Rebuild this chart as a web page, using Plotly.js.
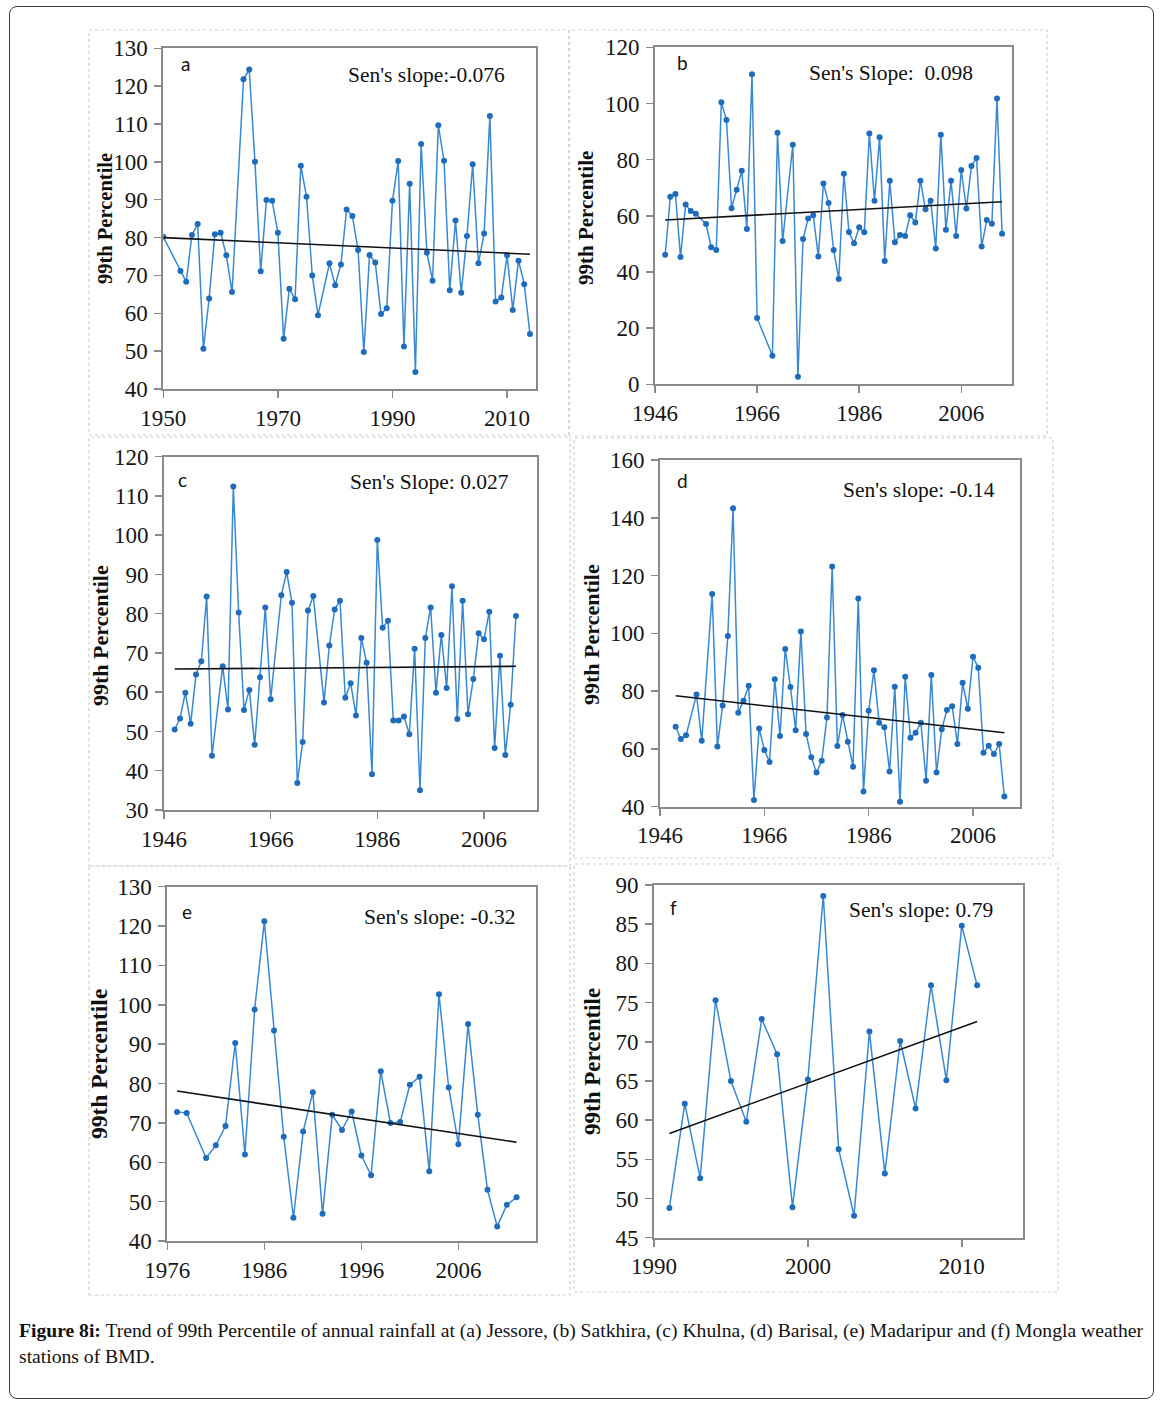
<!DOCTYPE html>
<html>
<head>
<meta charset="utf-8">
<script src="https://cdn.plot.ly/plotly-3.0.1.min.js"></script>
<style>
  body { margin:0; background:#fff; }
  #wrap { position:relative; width:1161px; height:1408px; overflow:hidden; background:#fff; }
  #plot { position:absolute; left:0; top:0; }
  #frame { position:absolute; left:9px; top:6px; width:1145px; height:1393px; box-sizing:border-box;
           border:1.5px solid #3a3a3a; border-radius:8px; pointer-events:none; }
  #caption { position:absolute; left:19px; top:1318px; font-family:'Liberation Serif', serif; color:#111;
             line-height:26px; white-space:nowrap; }
</style>
</head>
<body>
<div id="wrap">
  <div id="plot"></div>
  <div id="frame"></div>
  <div id="caption"><span id="cap1"><b>Figure 8i:</b> Trend of 99th Percentile of annual rainfall at (a) Jessore, (b) Satkhira, (c) Khulna, (d) Barisal, (e) Madaripur and (f) Mongla weather</span><br><span>stations of BMD.</span></div>
</div>
<script>
// ---------------- DATA ----------------
const yearsA = [1950,1953,1954,1955,1956,1957,1958,1959,1960,1961,1962,1964,1965,1966,1967,1968,1969,1970,1971,1972,1973,1974,1975,1976,1977,1979,1980,1981,1982,1983,1984,1985,1986,1987,1988,1989,1990,1991,1992,1993,1994,1995,1996,1997,1998,1999,2000,2001,2002,2003,2004,2005,2006,2007,2008,2009,2010,2011,2012,2013,2014];
const valuesA = [80.2,71.2,68.3,80.7,83.6,50.6,63.9,80.9,81.3,75.3,65.6,121.8,124.4,100,71.1,89.9,89.7,81.3,53.3,66.5,63.7,99,90.8,70,59.5,73.2,67.4,72.9,87.4,85.7,76.7,49.8,75.4,73.4,59.8,61.3,89.7,100.2,51.2,94.2,44.5,104.7,76,68.6,109.7,100.3,66.1,84.5,65.4,80.4,99.4,73.2,81.1,112.1,63.1,64.2,75.3,60.9,73.9,67.7,54.5];
const trendYearsA = [1950, 2014];
const trendA = [80.0, 75.6];

const yearsB = [1948,1949,1950,1951,1952,1953,1954,1956,1957,1958,1959,1960,1961,1962,1963,1964,1965,1966,1969,1970,1971,1973,1974,1975,1976,1977,1978,1979,1980,1981,1982,1983,1984,1985,1986,1987,1988,1989,1990,1991,1992,1993,1994,1995,1996,1997,1998,1999,2000,2001,2002,2003,2004,2005,2006,2007,2008,2009,2010,2011,2012,2013,2014];
const valuesB = [46.1,66.8,67.8,45.3,64,61.7,60.7,57.1,48.8,47.8,100.4,94.1,62.7,69.3,76,55.3,110.4,23.6,10.2,89.6,51,85.3,2.7,51.7,59,60.2,45.5,71.5,64.6,47.8,37.5,75,54.2,50.2,55.9,54.1,89.3,65.4,88,43.9,72.5,50.6,53.2,52.8,60.2,57.6,72.5,62.3,65.4,48.4,88.9,55,72.5,52.8,76.3,62.6,77.7,80.6,49.1,58.5,57.2,101.8,53.6];
const trendYearsB = [1948, 2014];
const trendB = [58.5, 65.0];

const yearsC = [1948,1949,1950,1951,1952,1953,1954,1955,1957,1958,1959,1960,1961,1962,1963,1964,1965,1966,1968,1969,1970,1971,1972,1973,1974,1976,1977,1978,1979,1980,1981,1982,1983,1984,1985,1986,1987,1988,1989,1990,1991,1992,1993,1994,1995,1996,1997,1998,1999,2000,2001,2002,2003,2004,2005,2006,2007,2008,2009,2010,2011,2012];
const valuesC = [50.5,53.3,59.9,52,64.5,67.9,84.4,43.8,66.6,55.6,112.4,80.3,55.5,60.6,46.6,63.8,81.6,58.2,84.7,90.6,82.8,36.9,47.3,80.8,84.5,57.4,71.9,81.1,83.3,58.6,62.3,54.1,73.8,67.5,39.1,98.8,76.4,78.2,52.8,52.8,53.8,49.3,71.1,35,73.8,81.6,59.9,74.6,61.1,87,53.2,83.3,54.4,63.4,75,73.5,80.5,45.8,69.3,44,56.8,79.4];
const trendYearsC = [1948, 2012];
const trendC = [65.9, 66.6];

const yearsD = [1949,1950,1951,1953,1954,1956,1957,1958,1959,1960,1961,1962,1963,1964,1965,1966,1967,1968,1969,1970,1971,1972,1973,1974,1975,1976,1977,1978,1979,1980,1981,1982,1983,1984,1985,1986,1987,1988,1989,1990,1991,1992,1993,1994,1995,1996,1997,1998,1999,2000,2001,2002,2003,2004,2005,2006,2007,2008,2009,2010,2011,2012];
const valuesD = [67.7,63.4,64.7,78.8,62.8,113.6,60.8,75,99.1,143.3,72.5,76.7,81.9,42.3,67.1,59.6,55.5,84.1,64.5,94.6,81.4,66.5,100.6,65.2,57.1,51.8,55.9,70.9,123.1,61,71.7,62.5,53.8,112.1,45.3,73.2,87.2,69.1,67.5,52.2,81.5,41.7,85,63.9,65.6,69.1,49,85.6,51.8,66.8,73.5,74.8,61.7,82.9,73.9,91.9,88.1,58.7,61.1,58.2,61.7,43.5];
const trendYearsD = [1949, 2012];
const trendD = [78.4, 65.6];

const yearsE = [1977,1978,1980,1981,1982,1983,1984,1985,1986,1987,1988,1989,1990,1991,1992,1993,1994,1995,1996,1997,1998,1999,2000,2001,2002,2003,2004,2005,2006,2007,2008,2009,2010,2011,2012];
const valuesE = [72.8,72.5,61.1,64.3,69.2,90.3,62,98.8,121.2,93.5,66.5,45.9,67.8,77.8,46.9,72.1,68.2,72.9,61.7,56.7,83.1,70,70.2,79.7,81.7,57.7,102.7,79,64.6,95.1,72.1,53,43.7,49.2,51.1];
const trendYearsE = [1977, 2012];
const trendE = [78.1, 65.1];

const yearsF = [1991,1992,1993,1994,1995,1996,1997,1998,1999,2000,2001,2002,2003,2004,2005,2006,2007,2008,2009,2010,2011];
const valuesF = [48.8,62.1,52.6,75.3,65,59.8,72.9,68.4,48.9,65.2,88.6,56.3,47.8,71.3,53.2,70.1,61.5,77.2,65.1,84.8,77.2];
const trendYearsF = [1991, 2011];
const trendF = [58.3, 72.6];

const panelLetters = ['a','b','c','d','e','f'];
const senLabels = ["Sen's slope:-0.076", "Sen's Slope:  0.098", "Sen's Slope: 0.027", "Sen's slope: -0.14", "Sen's slope: -0.32", "Sen's slope: 0.79"];
const yTitle = '99th Percentile';

// ---------------- LAYOUT ----------------
const W = 1161, H = 1408;
const fx = p => p / W;
const fy = p => 1 - p / H;

const panels = [
  {x: yearsA, y: valuesA, tx: trendYearsA, ty: trendA, box:[163.3,535.7,48.3,389],  xr:[1950,2015], yr:[40,130], t0:1950, xd:20, yd:10, lp:[185,64],  sp:[507,75],  yt:[105,219], yts:20.5, frame:[89,30,569,435]},
  {x: yearsB, y: valuesB, tx: trendYearsB, ty: trendB, box:[655,1012.3,47.3,384.3],  xr:[1946,2016], yr:[0,120],  t0:1946, xd:20, yd:20, lp:[682,62],  sp:[975,73],  yt:[586,218], yts:21,   frame:[569,30,1047,436]},
  {x: yearsC, y: valuesC, tx: trendYearsC, ty: trendC, box:[164,537.3,456.7,810],    xr:[1946,2016], yr:[30,120], t0:1946, xd:20, yd:10, lp:[182,479], sp:[511,482], yt:[100,636], yts:22,   frame:[89,437,570,866]},
  {x: yearsD, y: valuesD, tx: trendYearsD, ty: trendD, box:[660,1020,460,806.7],     xr:[1946,2015], yr:[40,160], t0:1946, xd:20, yd:20, lp:[682,481], sp:[997,490], yt:[592,635], yts:22,   frame:[574,438,1053,858]},
  {x: yearsE, y: valuesE, tx: trendYearsE, ty: trendE, box:[167.3,536,886.7,1241],   xr:[1976,2014], yr:[40,130], t0:1976, xd:10, yd:10, lp:[187,911], sp:[517,917], yt:[99,1064], yts:23.5, frame:[89,866,570,1295]},
  {x: yearsF, y: valuesF, tx: trendYearsF, ty: trendF, box:[654,1023.3,885,1237.7],  xr:[1990,2014], yr:[45,90],  t0:1990, xd:10, yd:5,  lp:[673,907], sp:[995,910], yt:[592,1062], yts:23,  frame:[574,864,1058,1292]}
];

const tickFont = {family:'Liberation Serif, Times New Roman, serif', size:23, color:'#161616'};
const axisCommon = {
  showgrid:false, zeroline:false, showline:true, mirror:true,
  linecolor:'#8a8a8a', linewidth:2, ticks:'outside', ticklen:7, tickwidth:1.5, tickcolor:'#8a8a8a',
  tickfont: tickFont, fixedrange:true
};

const traces = [];
const layout = {
  width: W, height: H, margin:{l:0,r:0,t:0,b:0}, paper_bgcolor:'#fff', plot_bgcolor:'#fff',
  showlegend:false, annotations:[], shapes:[]
};

panels.forEach((p, i) => {
  const n = i === 0 ? '' : String(i + 1);
  const xa = 'x' + n, ya = 'y' + n;
  traces.push({
    x: p.x, y: p.y, xaxis: xa, yaxis: ya, type:'scatter', mode:'lines+markers',
    line:{color:'#3888d3', width:1.5}, marker:{color:'#1f6cbd', size:6, symbol:'circle'},
    hoverinfo:'x+y'
  });
  traces.push({
    x: p.tx, y: p.ty, xaxis: xa, yaxis: ya, type:'scatter', mode:'lines',
    line:{color:'#111', width:1.6}, hoverinfo:'skip'
  });
  layout['xaxis' + n] = Object.assign({}, axisCommon, {
    domain:[fx(p.box[0]), fx(p.box[1])], range:p.xr, anchor: ya,
    tickmode:'linear', tick0:p.t0, dtick:p.xd, ticklabelstandoff:0
  });
  layout['yaxis' + n] = Object.assign({}, axisCommon, {
    domain:[fy(p.box[3]), fy(p.box[2])], range:p.yr, anchor: xa,
    tickmode:'linear', tick0:p.yr[0], dtick:p.yd, ticklabelstandoff:2
  });
  // panel letter
  layout.annotations.push({xref:'paper', yref:'paper', x:fx(p.lp[0]), y:fy(p.lp[1]), xanchor:'center', yanchor:'middle',
    text: panelLetters[i], showarrow:false, font:{family:'Lato, Liberation Sans, sans-serif', size:19, color:'#111'}});
  // Sen's slope
  layout.annotations.push({xref:'paper', yref:'paper', x:fx(p.sp[0]), y:fy(p.sp[1]), xanchor:'right', yanchor:'middle',
    text: senLabels[i].replace(/  /g,'&nbsp; '), showarrow:false, font:{family:'Liberation Serif, serif', size:21.5, color:'#111'}});
  // y title
  layout.annotations.push({xref:'paper', yref:'paper', x:fx(p.yt[0]), y:fy(p.yt[1]), xanchor:'center', yanchor:'middle',
    text:'<b>' + yTitle + '</b>', textangle:-90, showarrow:false, font:{family:'Liberation Serif, serif', size:p.yts, color:'#111'}});
  // chart-area frame
  layout.shapes.push({type:'rect', xref:'paper', yref:'paper', x0:fx(p.frame[0]), x1:fx(p.frame[2]), y0:fy(p.frame[3]), y1:fy(p.frame[1]),
    line:{color:'#cfcfcf', width:1.2, dash:'dot'}, fillcolor:'rgba(0,0,0,0)', layer:'below'});
});

Plotly.newPlot('plot', traces, layout, {displayModeBar:false, staticPlot:true});

// fit caption line 1 to its width in the reference (19px .. 1144px)
(function(){
  const cap = document.getElementById('caption');
  const c1 = document.getElementById('cap1');
  let size = 18;
  cap.style.fontSize = size + 'px';
  const w = c1.getBoundingClientRect().width;
  if (w > 0) { size = size * 1125 / w; cap.style.fontSize = size.toFixed(2) + 'px'; }
})();
</script>
</body>
</html>
